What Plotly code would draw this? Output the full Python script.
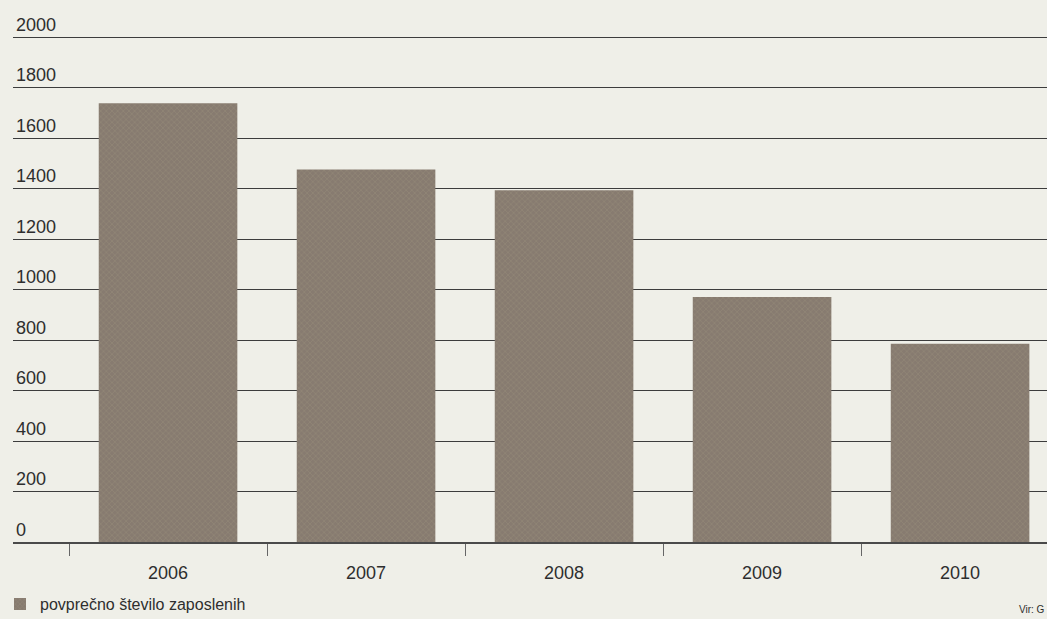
import plotly.graph_objects as go

years = ["2006", "2007", "2008", "2009", "2010"]
employees = [1738, 1476, 1394, 971, 786]
y_ticks = [0, 200, 400, 600, 800, 1000, 1200, 1400, 1600, 1800, 2000]
series_name = "povprečno število zaposlenih"
source_text = "Vir: G"

FONT = "Liberation Sans, Arial, sans-serif"
TEXT = "#2e2e2e"
PAPER = "#efefe8"

Y_TOP = 2100  # a little headroom so the 2000 label/grid line stay visible

fig = go.Figure()
fig.add_trace(go.Bar(
    x=years,
    y=employees,
    name=series_name,
    marker=dict(
        color="#8a7e70",
        line=dict(width=0),
        pattern=dict(shape="x", size=4, solidity=0.35,
                     fgcolor="#9c917c", bgcolor="#877b70", fillmode="overlay"),
    ),
    showlegend=True,
))

fig.update_layout(
    width=1047, height=619,
    paper_bgcolor=PAPER, plot_bgcolor=PAPER,
    margin=dict(l=13, r=0, t=12, b=77),
    bargap=0.30,
    font=dict(family=FONT, size=18, color=TEXT),
    showlegend=True,
    legend=dict(
        orientation="h",
        xref="container", yref="container",
        x=0.0, y=0.024, xanchor="left", yanchor="middle",
        bgcolor="rgba(0,0,0,0)",
        font=dict(size=16, color=TEXT),
        itemwidth=30,
    ),
    xaxis=dict(
        type="category",
        range=[-0.783, 4.439],
        showgrid=False,
        showline=True, linecolor="#4a4a4a", linewidth=1.5,
        ticks="outside", tickson="boundaries", ticklen=12,
        tickcolor="#666666", tickwidth=1,
        ticklabelstandoff=14,
        tickfont=dict(size=18, color=TEXT),
        zeroline=False,
    ),
    yaxis=dict(
        range=[0, Y_TOP],
        tickvals=y_ticks,
        ticktext=[str(v) for v in y_ticks],
        showgrid=True, gridcolor="#3c3c3c", gridwidth=1.3,
        ticklabelposition="inside top",
        ticks="",
        tickfont=dict(size=18, color=TEXT),
        zeroline=False,
        showline=False,
    ),
    annotations=[dict(
        text=source_text, xref="paper", yref="paper",
        x=1.0, y=(541.7 - 609) / 529.7,
        xanchor="right", yanchor="middle", showarrow=False,
        font=dict(size=10, color=TEXT),
    )],
)

fig.write_html(
    "out.html",
    config={"displayModeBar": False},
    post_script="document.body.style.margin='0';document.body.style.overflow='hidden';",
)
